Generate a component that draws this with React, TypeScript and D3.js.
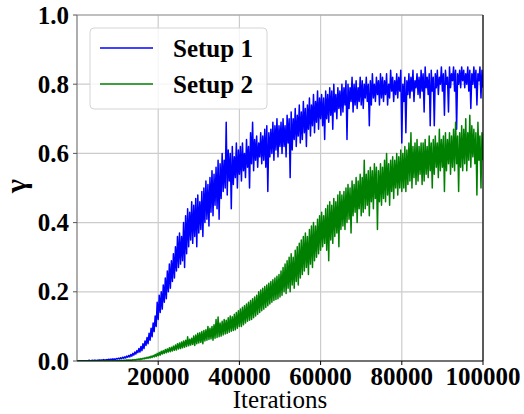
import React from "react";
import * as d3 from "d3";

// sampled every 250 iterations, 0 .. 100000 (one row = 5000 iterations)
const STEP = 250;

const setup1 = [
  0,
  0, 0, 0.001, 0, 0, 0.001, 0, 0.001, 0.001, 0, 0.001, 0.002, 0.001, 0.001, 0.002, 0.001, 0.002, 0.002, 0.001, 0.002,
  0.002, 0.003, 0.002, 0.003, 0.002, 0.004, 0.003, 0.003, 0.004, 0.003, 0.005, 0.004, 0.005, 0.004, 0.006, 0.005, 0.006, 0.005, 0.007, 0.006,
  0.008, 0.006, 0.009, 0.007, 0.011, 0.008, 0.012, 0.009, 0.014, 0.011, 0.016, 0.012, 0.019, 0.014, 0.022, 0.017, 0.026, 0.02, 0.03, 0.024,
  0.036, 0.026, 0.042, 0.03, 0.05, 0.036, 0.058, 0.045, 0.068, 0.05, 0.08, 0.06, 0.095, 0.07, 0.11, 0.085, 0.13, 0.1, 0.17, 0.12,
  0.19, 0.14, 0.2, 0.15, 0.22, 0.17, 0.24, 0.18, 0.26, 0.2, 0.28, 0.21, 0.29, 0.23, 0.31, 0.24, 0.33, 0.26, 0.36, 0.27,
  0.37, 0.28, 0.36, 0.29, 0.4, 0.27, 0.42, 0.31, 0.44, 0.33, 0.43, 0.35, 0.46, 0.34, 0.45, 0.36, 0.47, 0.33, 0.48, 0.37,
  0.46, 0.38, 0.49, 0.36, 0.5, 0.4, 0.52, 0.41, 0.51, 0.39, 0.53, 0.43, 0.55, 0.42, 0.54, 0.45, 0.56, 0.44, 0.58, 0.41,
  0.57, 0.47, 0.6, 0.49, 0.58, 0.5, 0.69, 0.48, 0.61, 0.52, 0.6, 0.44, 0.62, 0.51, 0.59, 0.53, 0.63, 0.5, 0.61, 0.54,
  0.62, 0.52, 0.63, 0.55, 0.6, 0.53, 0.64, 0.56, 0.62, 0.5, 0.66, 0.57, 0.69, 0.55, 0.64, 0.58, 0.65, 0.56, 0.63, 0.59,
  0.66, 0.57, 0.65, 0.58, 0.67, 0.56, 0.68, 0.49, 0.66, 0.59, 0.67, 0.6, 0.69, 0.58, 0.68, 0.61, 0.7, 0.59, 0.68, 0.62,
  0.69, 0.6, 0.7, 0.62, 0.68, 0.59, 0.71, 0.63, 0.7, 0.53, 0.72, 0.61, 0.7, 0.64, 0.73, 0.62, 0.71, 0.65, 0.74, 0.63,
  0.72, 0.64, 0.75, 0.66, 0.73, 0.62, 0.74, 0.67, 0.76, 0.65, 0.74, 0.68, 0.77, 0.66, 0.75, 0.69, 0.78, 0.67, 0.76, 0.7,
  0.77, 0.68, 0.76, 0.64, 0.78, 0.7, 0.77, 0.69, 0.79, 0.71, 0.78, 0.67, 0.8, 0.72, 0.77, 0.7, 0.79, 0.73, 0.78, 0.71,
  0.8, 0.72, 0.79, 0.74, 0.81, 0.64, 0.8, 0.73, 0.79, 0.75, 0.82, 0.72, 0.8, 0.74, 0.81, 0.73, 0.79, 0.75, 0.82, 0.74,
  0.81, 0.73, 0.8, 0.76, 0.82, 0.75, 0.8, 0.68, 0.81, 0.74, 0.83, 0.76, 0.8, 0.75, 0.82, 0.77, 0.81, 0.74, 0.83, 0.76,
  0.82, 0.75, 0.81, 0.77, 0.83, 0.74, 0.8, 0.76, 0.84, 0.78, 0.82, 0.75, 0.81, 0.77, 0.83, 0.76, 0.82, 0.78, 0.84, 0.63,
  0.8, 0.75, 0.82, 0.66, 0.81, 0.77, 0.83, 0.76, 0.82, 0.78, 0.84, 0.75, 0.81, 0.79, 0.83, 0.77, 0.82, 0.76, 0.84, 0.78,
  0.83, 0.72, 0.85, 0.79, 0.82, 0.77, 0.83, 0.68, 0.84, 0.78, 0.82, 0.68, 0.83, 0.79, 0.84, 0.77, 0.82, 0.8, 0.85, 0.78,
  0.83, 0.71, 0.84, 0.8, 0.82, 0.72, 0.85, 0.79, 0.83, 0.81, 0.85, 0.78, 0.84, 0.67, 0.83, 0.8, 0.84, 0.79, 0.85, 0.81,
  0.84, 0.79, 0.83, 0.8, 0.85, 0.78, 0.84, 0.73, 0.83, 0.8, 0.85, 0.79, 0.84, 0.74, 0.83, 0.81, 0.85, 0.76, 0.84, 0.79,
];

const setup2 = [
  0,
  0, 0, 0, 0, 0, 0, 0, 0, 0, 0, 0, 0, 0, 0, 0, 0, 0, 0, 0, 0,
  0, 0, 0, 0, 0.001, 0, 0, 0.001, 0, 0.001, 0, 0.001, 0.001, 0, 0.001, 0.001, 0, 0.001, 0.001, 0.001,
  0.001, 0.002, 0.001, 0.002, 0.001, 0.002, 0.002, 0.001, 0.003, 0.002, 0.003, 0.002, 0.003, 0.002, 0.004, 0.003, 0.004, 0.003, 0.005, 0.004,
  0.006, 0.004, 0.007, 0.005, 0.008, 0.006, 0.009, 0.007, 0.011, 0.008, 0.012, 0.009, 0.014, 0.01, 0.016, 0.012, 0.019, 0.013, 0.022, 0.015,
  0.025, 0.017, 0.028, 0.02, 0.03, 0.022, 0.033, 0.024, 0.035, 0.026, 0.038, 0.027, 0.04, 0.029, 0.043, 0.031, 0.046, 0.032, 0.05, 0.035,
  0.052, 0.036, 0.055, 0.038, 0.058, 0.04, 0.06, 0.042, 0.07, 0.044, 0.063, 0.046, 0.066, 0.048, 0.072, 0.045, 0.075, 0.05, 0.08, 0.052,
  0.082, 0.054, 0.085, 0.05, 0.088, 0.058, 0.09, 0.06, 0.1, 0.062, 0.095, 0.064, 0.1, 0.06, 0.105, 0.066, 0.12, 0.068, 0.127, 0.07,
  0.11, 0.072, 0.115, 0.075, 0.12, 0.078, 0.118, 0.08, 0.125, 0.083, 0.13, 0.086, 0.128, 0.088, 0.135, 0.09, 0.14, 0.095, 0.145, 0.1,
  0.15, 0.1, 0.155, 0.105, 0.16, 0.11, 0.165, 0.115, 0.17, 0.118, 0.175, 0.12, 0.18, 0.125, 0.185, 0.13, 0.19, 0.135, 0.2, 0.14,
  0.205, 0.145, 0.21, 0.15, 0.215, 0.155, 0.22, 0.16, 0.225, 0.165, 0.23, 0.17, 0.235, 0.175, 0.24, 0.178, 0.245, 0.18, 0.25, 0.185,
  0.26, 0.19, 0.27, 0.2, 0.28, 0.195, 0.29, 0.21, 0.3, 0.2, 0.31, 0.22, 0.3, 0.21, 0.32, 0.23, 0.33, 0.22, 0.34, 0.24,
  0.35, 0.25, 0.36, 0.26, 0.37, 0.27, 0.36, 0.25, 0.38, 0.28, 0.39, 0.27, 0.4, 0.29, 0.39, 0.3, 0.41, 0.31, 0.42, 0.32,
  0.43, 0.33, 0.42, 0.34, 0.44, 0.32, 0.45, 0.29, 0.46, 0.35, 0.45, 0.34, 0.47, 0.36, 0.46, 0.37, 0.48, 0.33, 0.49, 0.38,
  0.48, 0.39, 0.49, 0.38, 0.5, 0.4, 0.51, 0.41, 0.5, 0.37, 0.52, 0.42, 0.51, 0.43, 0.53, 0.4, 0.52, 0.44, 0.54, 0.42,
  0.53, 0.43, 0.58, 0.44, 0.54, 0.45, 0.55, 0.42, 0.56, 0.46, 0.55, 0.44, 0.57, 0.47, 0.56, 0.38, 0.55, 0.46, 0.57, 0.45,
  0.56, 0.47, 0.58, 0.46, 0.6, 0.48, 0.57, 0.45, 0.58, 0.49, 0.59, 0.47, 0.58, 0.5, 0.6, 0.48, 0.59, 0.5, 0.61, 0.49,
  0.6, 0.5, 0.62, 0.49, 0.61, 0.51, 0.63, 0.52, 0.66, 0.5, 0.62, 0.53, 0.63, 0.51, 0.64, 0.52, 0.62, 0.54, 0.63, 0.51,
  0.63, 0.52, 0.64, 0.54, 0.62, 0.53, 0.65, 0.55, 0.63, 0.5, 0.64, 0.54, 0.65, 0.56, 0.63, 0.53, 0.67, 0.55, 0.64, 0.56,
  0.65, 0.49, 0.66, 0.55, 0.64, 0.57, 0.66, 0.54, 0.65, 0.56, 0.67, 0.55, 0.69, 0.57, 0.65, 0.49, 0.66, 0.56, 0.68, 0.55,
  0.67, 0.57, 0.7, 0.55, 0.66, 0.58, 0.71, 0.56, 0.68, 0.59, 0.67, 0.57, 0.66, 0.48, 0.69, 0.58, 0.65, 0.5, 0.66, 0.58,
];

const seriesNames = ["Setup 1", "Setup 2"];
const seriesColors = ["#0000ff", "#008000"];
const xTicks = [20000, 40000, 60000, 80000, 100000];
const yTicks = [0, 0.2, 0.4, 0.6, 0.8, 1.0];

const W = 524;
const H = 414;
const left = 77;
const right = 483;
const top = 15;
const bottom = 361;
const font = "'Liberation Serif', 'Times New Roman', serif";

export default function App() {
  const x = d3.scaleLinear().domain([0, 100000]).range([left, right]);
  const y = d3.scaleLinear().domain([0, 1]).range([bottom, top]);
  const line = d3
    .line<number>()
    .x((_, i) => x(i * STEP))
    .y((d) => y(d));

  const series = [setup1, setup2];

  return (
    <svg
      width={W}
      height={H}
      style={{ position: "absolute", left: 0, top: 0, background: "#fff" }}
    >
      <defs>
        <clipPath id="plot">
          <rect x={left} y={top} width={right - left} height={bottom - top} />
        </clipPath>
      </defs>

      {/* grid */}
      {xTicks.map((t) => (
        <line key={"gx" + t} x1={x(t)} x2={x(t)} y1={top} y2={bottom} stroke="#cccccc" strokeWidth={1.2} />
      ))}
      {yTicks.map((t) => (
        <line key={"gy" + t} x1={left} x2={right} y1={y(t)} y2={y(t)} stroke="#cccccc" strokeWidth={1.2} />
      ))}

      {/* data */}
      <g clipPath="url(#plot)">
        {series.map((s, i) => (
          <path key={i} d={line(s) || ""} fill="none" stroke={seriesColors[i]} strokeWidth={1.5} strokeLinejoin="round" />
        ))}
      </g>

      {/* spines */}
      <line x1={left} x2={right} y1={top} y2={top} stroke="#999" strokeWidth={1.2} />
      <line x1={left} x2={left} y1={top} y2={bottom} stroke="#777" strokeWidth={1.2} />
      <line x1={right} x2={right} y1={top} y2={bottom} stroke="#000" strokeWidth={1.2} />
      <line x1={left} x2={right} y1={bottom} y2={bottom} stroke="#000" strokeWidth={1.2} />

      {/* x ticks */}
      {xTicks.map((t) => (
        <g key={"xt" + t}>
          <line x1={x(t)} x2={x(t)} y1={bottom} y2={bottom + 4} stroke="#000" strokeWidth={1} />
          <text
            x={x(t)}
            y={bottom + 24}
            textAnchor="middle"
            fontFamily={font}
            fontWeight="bold"
            fontSize={25}
          >
            {t}
          </text>
        </g>
      ))}

      {/* y ticks */}
      {yTicks.map((t) => (
        <g key={"yt" + t}>
          <line x1={left - 4} x2={left} y1={y(t)} y2={y(t)} stroke="#555" strokeWidth={1} />
          <text
            x={left - 8}
            y={y(t)}
            dy="0.34em"
            textAnchor="end"
            fontFamily={font}
            fontWeight="bold"
            fontSize={25}
          >
            {t.toFixed(1)}
          </text>
        </g>
      ))}

      {/* axis labels */}
      <text x={(left + right) / 2} y={408} textAnchor="middle" fontFamily={font} fontSize={25}>
        Iterations
      </text>
      <text
        transform={`translate(26,186) rotate(-90)`}
        textAnchor="middle"
        fontFamily={font}
        fontWeight="bold"
        fontSize={30}
      >
        γ
      </text>

      {/* legend */}
      <rect x={90} y={28} width={177} height={81} rx={4} fill="#fff" fillOpacity={0.8} stroke="#d4d4d4" strokeWidth={1} />
      {seriesNames.map((name, i) => (
        <g key={name}>
          <line x1={100} x2={153} y1={48 + i * 36} y2={48 + i * 36} stroke={seriesColors[i]} strokeWidth={1.6} />
          <text
            x={173}
            y={48 + i * 36}
            dy="0.34em"
            fontFamily={font}
            fontWeight="bold"
            fontSize={25}
          >
            {name}
          </text>
        </g>
      ))}
    </svg>
  );
}
